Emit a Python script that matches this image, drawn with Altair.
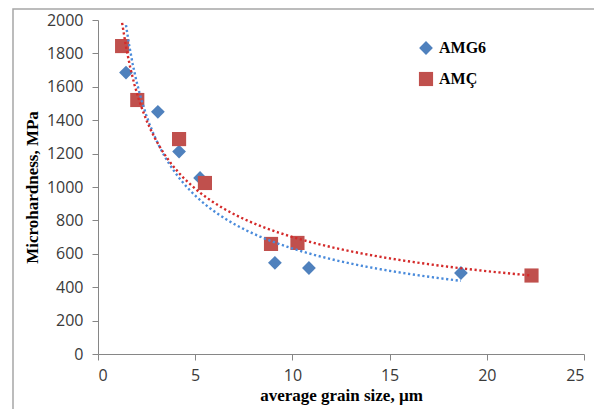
import altair as alt
import pandas as pd

# Data
amg6_x = [1.44, 3.08, 4.17, 5.25, 9.1, 10.85, 18.67]
amg6_y = [1685, 1450, 1212, 1054, 546, 515, 485]
amc_x = [1.24, 2.02, 4.17, 5.5, 8.9, 10.26, 22.3]
amc_y = [1844, 1521, 1287, 1024, 659, 665, 470]
series_names = ["AMG6", "AMÇ"]
x_ticks = [0, 5, 10, 15, 20, 25]
y_ticks = [0, 200, 400, 600, 800, 1000, 1200, 1400, 1600, 1800, 2000]

df = pd.concat([
    pd.DataFrame({"x": amg6_x, "y": amg6_y, "series": series_names[0]}),
    pd.DataFrame({"x": amc_x, "y": amc_y, "series": series_names[1]}),
], ignore_index=True)

W, H = 486, 334
tick_font = "Open Sans"
title_font = "Liberation Serif"

xscale = alt.Scale(domain=[0, 25], nice=False, zero=True)
yscale = alt.Scale(domain=[0, 2000], nice=False, zero=True)

xaxis = alt.Axis(values=x_ticks, title="average grain size, µm", grid=False, format="d",
                 labelOverlap=False,
                 domainColor="#868686", tickColor="#868686", tickSize=6,
                 labelFont=tick_font, labelFontSize=16, labelColor="#3a3a3a",
                 labelPadding=7, titleFont=title_font, titleFontSize=17,
                 titleFontWeight="bold", titleColor="black", titlePadding=4)
yaxis = alt.Axis(values=y_ticks, title="Microhardness, MPa", grid=False, format="d",
                 labelOverlap=False,
                 domainColor="#868686", tickColor="#868686", tickSize=6,
                 labelFont=tick_font, labelFontSize=16, labelColor="#3a3a3a",
                 labelPadding=9, titleFont=title_font, titleFontSize=17,
                 titleFontWeight="bold", titleColor="black", titlePadding=5)

leg = alt.Legend(title=None, orient="none", legendX=320, legendY=20)

base = alt.Chart(df)

points = base.mark_point(filled=True, opacity=1, strokeWidth=0).encode(
    x=alt.X("x:Q", scale=xscale, axis=xaxis),
    y=alt.Y("y:Q", scale=yscale, axis=yaxis),
    color=alt.Color("series:N", scale=alt.Scale(domain=series_names, range=["#4F81BD", "#C0504D"]),
                    legend=leg),
    shape=alt.Shape("series:N", scale=alt.Scale(domain=series_names, range=["diamond", "square"]),
                    legend=leg),
    size=alt.Size("series:N", scale=alt.Scale(domain=series_names, range=[190, 200]), legend=None),
)

trend = base.transform_regression("x", "y", method="pow", groupby=["series"]).mark_line(
    strokeDash=[2.2, 2.6], strokeWidth=2.4, strokeCap="butt"
).encode(
    x=alt.X("x:Q", scale=xscale, axis=xaxis),
    y=alt.Y("y:Q", scale=yscale, axis=yaxis),
    stroke=alt.Stroke("series:N", scale=alt.Scale(domain=series_names, range=["#4A8BDB", "#D42A2A"]),
                      legend=None),
    detail="series:N",
)

border = alt.Chart(pd.DataFrame({"a": [0]})).mark_rect(
    fill=None, stroke="#a6a6a6", strokeWidth=1.5
).encode(x=alt.value(-85), x2=alt.value(520), y=alt.value(-11), y2=alt.value(420))

chart = alt.layer(border, points, trend).properties(
    width=W, height=H,
    autosize=alt.AutoSizeParams(type="none"),
    padding={"left": 90, "top": 12, "right": 10, "bottom": 55},
    background="white",
).configure_view(stroke=None).configure_axis(labelOverlap=False).configure_legend(
    symbolSize=110, labelFont=title_font, labelFontSize=16,
    labelFontWeight="bold", labelColor="black",
    rowPadding=15, labelOffset=5, padding=0, symbolStrokeWidth=0,
)

chart.save("out.html", embed_options={"renderer": "svg", "actions": False})
